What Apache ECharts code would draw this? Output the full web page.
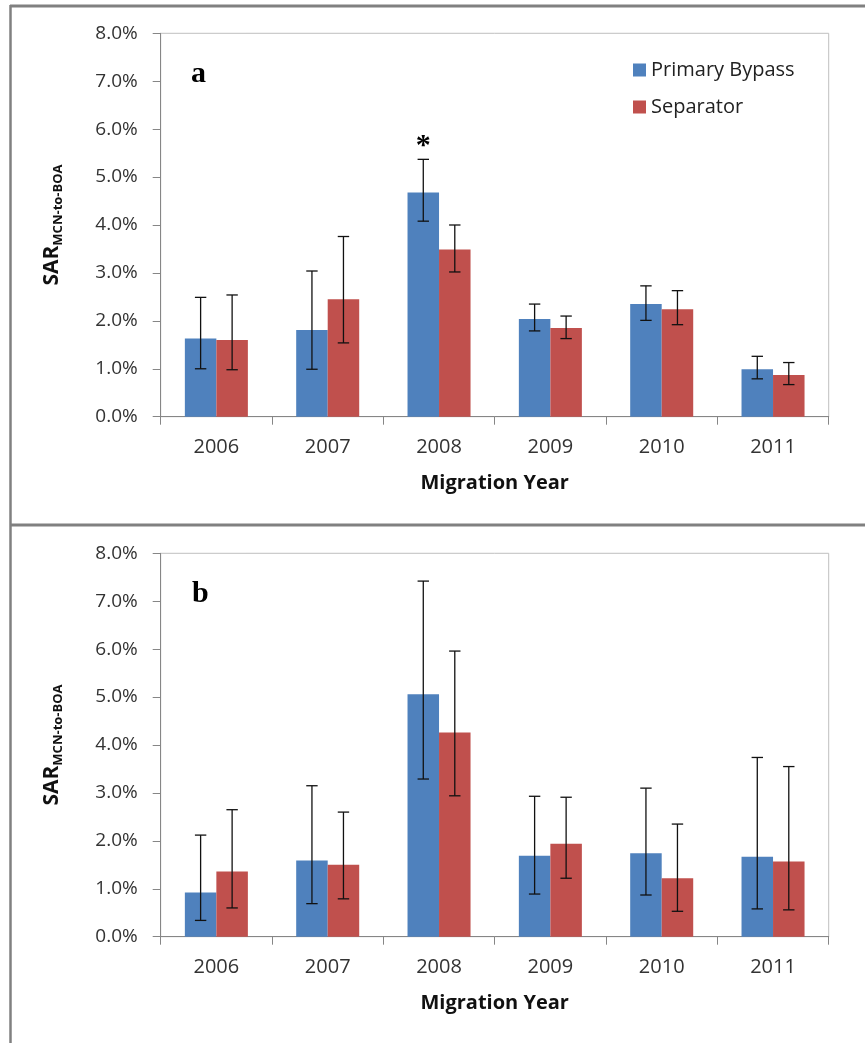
<!DOCTYPE html>
<html>
<head>
<meta charset="utf-8">
<script src="https://cdn.jsdelivr.net/npm/echarts@6/dist/echarts.min.js"></script>
<style>html,body{margin:0;padding:0;background:#fff}#c{width:865px;height:1043px}</style>
</head>
<body>
<div id="c"></div>
<script>
const years = ['2006','2007','2008','2009','2010','2011'];
const yTicks = [0,1,2,3,4,5,6,7,8];
// panel a
const aBypass   = [1.63,1.81,4.68,2.04,2.35,0.99];
const aBypassLo = [1.00,0.99,4.08,1.79,2.01,0.79];
const aBypassHi = [2.49,3.04,5.37,2.35,2.73,1.26];
const aSep      = [1.60,2.45,3.49,1.85,2.24,0.87];
const aSepLo    = [0.98,1.54,3.02,1.63,1.92,0.67];
const aSepHi    = [2.54,3.76,4.00,2.10,2.63,1.13];
// panel b
const bBypass   = [0.92,1.59,5.06,1.69,1.74,1.67];
const bBypassLo = [0.34,0.69,3.29,0.89,0.87,0.58];
const bBypassHi = [2.12,3.15,7.42,2.93,3.10,3.74];
const bSep      = [1.36,1.50,4.26,1.94,1.22,1.57];
const bSepLo    = [0.60,0.79,2.94,1.22,0.53,0.56];
const bSepHi    = [2.65,2.60,5.96,2.91,2.35,3.55];
const sigMark = {year:'2008', value:5.64, text:'*'};

const BLUE = '#4F81BD', RED = '#C0504D';
const BW = 0.283;
const FONT = 'Open Sans';

const chart = echarts.init(document.getElementById('c'), null, {renderer:'canvas'});

function errData(lo, hi){ return lo.map((v,i)=>[i, v, hi[i]]); }
function errSeries(name, lo, hi, sign, idx){
  return {
    type:'custom', name: name + ' err', xAxisIndex: idx, yAxisIndex: idx, z: 5,
    data: errData(lo, hi), silent:true,
    renderItem: function(params, api){
      const band = api.size([1,0])[0];
      const pLo = api.coord([api.value(0), api.value(1)]);
      const pHi = api.coord([api.value(0), api.value(2)]);
      const x = pLo[0] + sign*band*BW/2;
      const h = 5.7;
      const st = {stroke:'#111', lineWidth:1.3};
      return {type:'group', children:[
        {type:'line', shape:{x1:x,y1:pLo[1],x2:x,y2:pHi[1]}, style:st},
        {type:'line', shape:{x1:x-h,y1:pHi[1],x2:x+h,y2:pHi[1]}, style:st},
        {type:'line', shape:{x1:x-h,y1:pLo[1],x2:x+h,y2:pLo[1]}, style:st}
      ]};
    }
  };
}

function xAxis(idx){
  return {
    type:'category', gridIndex: idx, data: years,
    axisLine:{lineStyle:{color:'#868686', width:1}},
    axisTick:{show:true, length:8, lineStyle:{color:'#868686'}},
    axisLabel:{fontFamily:FONT, fontSize:20, color:'#333', margin:21},
    name:'Migration Year', nameLocation:'middle', nameGap:57,
    nameTextStyle:{fontFamily:FONT, fontSize:20, fontWeight:'bold', color:'#111'}
  };
}
function yAxis(idx){
  return {
    type:'value', gridIndex: idx, min:0, max:8, interval:1,
    axisLine:{show:true, lineStyle:{color:'#868686', width:1}},
    axisTick:{show:true, length:8, lineStyle:{color:'#868686'}},
    splitLine:{show:false},
    axisLabel:{fontFamily:FONT, fontSize:19, color:'#333', margin:23,
      formatter: v => yTicks.includes(v) ? v.toFixed(1)+'%' : ''},
    name:'{a|SAR}{s|MCN-to-BOA}', nameLocation:'middle', nameGap:98,
    nameTextStyle:{
      rich:{
        a:{fontFamily:FONT, fontSize:21, fontWeight:'bold', color:'#111', lineHeight:26, verticalAlign:'bottom'},
        s:{fontFamily:FONT, fontSize:13, fontWeight:'bold', color:'#111', lineHeight:13, verticalAlign:'bottom', padding:[0,0,-2,0]}
      }
    }
  };
}
function bar(name, data, color, idx, extra){
  return Object.assign({
    type:'bar', name, data, xAxisIndex: idx, yAxisIndex: idx,
    barWidth:(BW*100)+'%', barGap:'0%',
    itemStyle:{color}, emphasis:{disabled:true}
  }, extra||{});
}

const option = {
  animation:false,
  backgroundColor:'#fff',
  grid:[
    {left:160.7, top:33.3, width:668, height:383.4, show:true, borderColor:'#BFBFBF', borderWidth:1},
    {left:160.7, top:553.3, width:668, height:383.4, show:true, borderColor:'#BFBFBF', borderWidth:1}
  ],
  xAxis:[xAxis(0), xAxis(1)],
  yAxis:[yAxis(0), yAxis(1)],
  legend:{
    data:['Primary Bypass','Separator'], orient:'vertical', left:628, top:55,
    itemWidth:13, itemHeight:13, itemGap:17, icon:'rect',
    textStyle:{fontFamily:FONT, fontSize:20, color:'#222'}
  },
  series:[
    bar('Primary Bypass', aBypass, BLUE, 0, {
      markPoint:{
        symbol:'circle', symbolSize:1, itemStyle:{color:'rgba(0,0,0,0)'},
        data:[{coord:[sigMark.year, sigMark.value]}],
        label:{show:true, position:'inside', formatter:sigMark.text,
          fontFamily:'Liberation Serif', fontSize:30, fontWeight:'bold', color:'#000'}
      }
    }),
    bar('Separator', aSep, RED, 0),
    bar('Primary Bypass', bBypass, BLUE, 1),
    bar('Separator', bSep, RED, 1),
    errSeries('a1', aBypassLo, aBypassHi, -1, 0),
    errSeries('a2', aSepLo, aSepHi, 1, 0),
    errSeries('b1', bBypassLo, bBypassHi, -1, 1),
    errSeries('b2', bSepLo, bSepHi, 1, 1)
  ],
  graphic:[
    {type:'line', shape:{x1:10,y1:6,x2:865,y2:6}, style:{stroke:'#808080', lineWidth:3}},
    {type:'line', shape:{x1:10,y1:525,x2:865,y2:525}, style:{stroke:'#808080', lineWidth:3}},
    {type:'line', shape:{x1:10.5,y1:5,x2:10.5,y2:1043}, style:{stroke:'#808080', lineWidth:2.5}},
    {type:'text', left:191, top:59, style:{text:'a', fontFamily:'Liberation Serif', fontSize:30, fontWeight:'bold', fill:'#000'}},
    {type:'text', left:192, top:579, style:{text:'b', fontFamily:'Liberation Serif', fontSize:30, fontWeight:'bold', fill:'#000'}}
  ]
};
chart.setOption(option);
</script>
</body>
</html>
